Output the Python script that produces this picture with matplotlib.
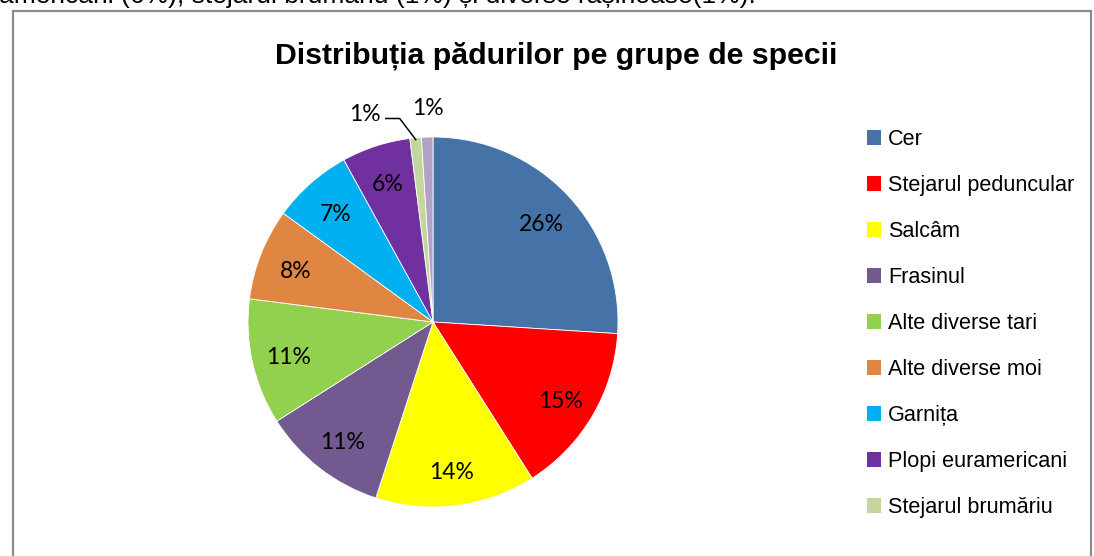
import matplotlib
matplotlib.use("Agg")
import matplotlib.pyplot as plt
from matplotlib.patches import Rectangle, Patch
import numpy as np

species = ["Cer", "Stejarul peduncular", "Salcâm", "Frasinul", "Alte diverse tari",
           "Alte diverse moi", "Garnița", "Plopi euramericani", "Stejarul brumăriu",
           "Diverse rășinoase"]
shares = [26, 15, 14, 11, 11, 8, 7, 6, 1, 1]
colors = ["#4572a7", "#ff0000", "#ffff00", "#72598f", "#92d050",
          "#df8642", "#00b0f0", "#7030a0", "#c3d69b", "#b3a2c7"]
legend_count = 9
title = "Distribuția pădurilor pe grupe de specii"
top_text = "americani (6%), stejarul brumăriu (1%) și diverse rășinoase(1%)."

W, H = 1094, 556
fig = plt.figure(figsize=(W / 100, H / 100), dpi=100)
fig.patch.set_facecolor("white")

# frame of the chart area
fig.patches.append(Rectangle((13 / W, -0.05), (1091 - 13) / W, 1.05 - 11 / H,
                             transform=fig.transFigure, fill=False,
                             edgecolor="#8c8c8c", linewidth=1.6))

# cut-off sentence at top
fig.text(-0.001, 1 - 3.5 / H, top_text, fontsize=19, family="Liberation Sans",
         va="baseline", ha="left", color="black")

fig.text(556 / W, 1 - 56 / H, title, fontsize=21.8, fontweight="bold",
         family="Liberation Sans", ha="center", va="center")

cx, cy, R = 433, 322, 185
ax = fig.add_axes([(cx - R) / W, (H - cy - R) / H, 2 * R / W, 2 * R / H])
wedges, _ = ax.pie(shares, colors=colors, startangle=90, counterclock=False,
                   radius=1, wedgeprops=dict(edgecolor="white", linewidth=0.6))
ax.set_xlim(-1, 1)
ax.set_ylim(-1, 1)
ax.set_aspect("equal")
ax.axis("off")

lbl_font = dict(fontsize=16.5, family="Lato", ha="center", va="center")
for i, (w, v) in enumerate(zip(wedges, shares)):
    mid = np.deg2rad((w.theta1 + w.theta2) / 2)
    if i < len(shares) - 2:
        r = 0.8
        ax.text(r * np.cos(mid), r * np.sin(mid) - 0.02, f"{v}%", **lbl_font)
    elif i == len(shares) - 2:
        x0, y0 = np.cos(mid) * 0.99, np.sin(mid) * 0.99
        ax.plot([x0, -0.18, -0.255], [y0, 1.10, 1.10], color="black",
                linewidth=1.1, clip_on=False)
        ax.text(-0.37, 1.12, f"{v}%", clip_on=False, **lbl_font)
    else:
        ax.text(-0.03, 1.155, f"{v}%", clip_on=False, **lbl_font)

handles = [Patch(facecolor=c) for c in colors[:legend_count]]
leg = fig.legend(handles, species[:legend_count], loc="upper left",
                 bbox_to_anchor=(867 / W, 1 - 129 / H), frameon=False,
                 prop=dict(family="Liberation Sans", size=15.6),
                 handlelength=0.65, handleheight=0.65, handletextpad=0.33,
                 labelspacing=1.155, borderpad=0, borderaxespad=0)

fig.savefig("out.png", dpi=100)
